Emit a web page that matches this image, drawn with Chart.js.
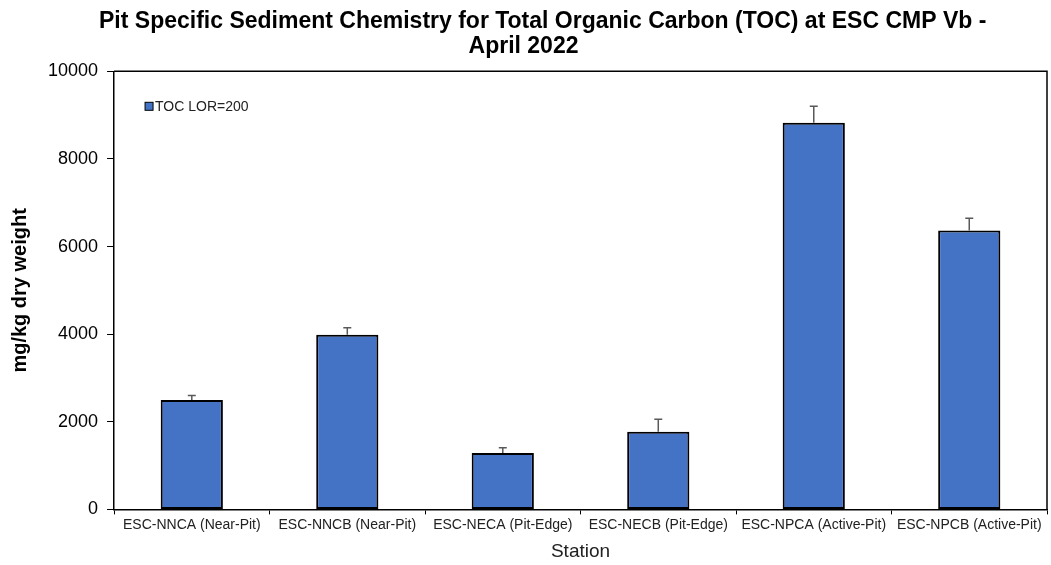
<!DOCTYPE html>
<html>
<head>
<meta charset="utf-8">
<script src="https://cdn.jsdelivr.net/npm/chart.js@4/dist/chart.umd.min.js"></script>
<style>
  html, body { margin: 0; padding: 0; background: #fff; }
  #wrap { width: 1051px; height: 565px; }
</style>
</head>
<body>
<div id="wrap"><canvas id="toc-chart" width="1051" height="565"></canvas></div>
<script>
const stations = [
  "ESC-NNCA (Near-Pit)",
  "ESC-NNCB (Near-Pit)",
  "ESC-NECA (Pit-Edge)",
  "ESC-NECB (Pit-Edge)",
  "ESC-NPCA (Active-Pit)",
  "ESC-NPCB (Active-Pit)"
];
const tocValues = [2500, 3985, 1290, 1775, 8825, 6365];
const tocErrors = [100, 160, 120, 280, 380, 280];
const seriesLabel = "TOC LOR=200";

const fontFamily = "'Liberation Sans', Arial, sans-serif";

// upper error bars + box frame + legend inside the plot
const extras = {
  id: "extras",
  afterDatasetsDraw(chart) {
    const ctx = chart.ctx;
    const y = chart.scales.y;
    const meta = chart.getDatasetMeta(0);

    ctx.save();
    ctx.strokeStyle = "#595959";
    ctx.lineWidth = 1.5;
    meta.data.forEach(function (bar, i) {
      const top = y.getPixelForValue(tocValues[i] + tocErrors[i]);
      ctx.beginPath();
      ctx.moveTo(bar.x, bar.y);
      ctx.lineTo(bar.x, top);
      ctx.moveTo(bar.x - 4, top);
      ctx.lineTo(bar.x + 4, top);
      ctx.stroke();
    });
    ctx.restore();
  },
  afterDraw(chart) {
    const ctx = chart.ctx;
    const area = chart.chartArea;

    ctx.save();
    ctx.strokeStyle = "#000";
    ctx.lineWidth = 1.5;
    ctx.beginPath();
    ctx.moveTo(area.left, area.top);
    ctx.lineTo(area.right, area.top);
    ctx.lineTo(area.right, area.bottom);
    ctx.stroke();

    const lx = area.left + 31;
    const ly = area.top + 35;
    ctx.fillStyle = "#4472C4";
    ctx.fillRect(lx, ly - 4, 8, 8);
    ctx.lineWidth = 1;
    ctx.strokeRect(lx, ly - 4, 8, 8);
    ctx.fillStyle = "#222";
    ctx.font = "14px " + fontFamily;
    ctx.textBaseline = "middle";
    ctx.fillText(seriesLabel, lx + 10, ly + 1);
    ctx.restore();
  }
};

const ctx = document.getElementById("toc-chart").getContext("2d");

new Chart(ctx, {
  type: "bar",
  data: {
    labels: stations,
    datasets: [
      {
        label: seriesLabel,
        data: tocValues,
        backgroundColor: "#4472C4",
        borderColor: "#000",
        borderWidth: 2,
        borderSkipped: false,
        barPercentage: 0.4,
        categoryPercentage: 1
      }
    ]
  },
  options: {
    responsive: false,
    animation: false,
    layout: {
      padding: { left: 0, right: 4, top: 0, bottom: 2 }
    },
    plugins: {
      legend: { display: false },
      tooltip: { enabled: false },
      title: {
        display: true,
        // leading spaces nudge the first line right like the original
        text: [
          "      Pit Specific Sediment Chemistry for Total Organic Carbon (TOC) at ESC CMP Vb -",
          "April 2022"
        ],
        color: "#000",
        font: { family: fontFamily, size: 23, weight: "bold", lineHeight: 1.05 },
        padding: { top: 10, bottom: 13 }
      }
    },
    scales: {
      x: {
        grid: {
          display: true,
          drawOnChartArea: false,
          drawTicks: true,
          tickLength: 5,
          color: "#000",
          offset: true
        },
        border: { color: "#000", width: 1.5 },
        ticks: {
          color: "#222",
          maxRotation: 0,
          minRotation: 0,
          autoSkip: false,
          padding: 2,
          font: { family: fontFamily, size: 14 }
        },
        title: {
          display: true,
          text: "Station",
          color: "#222",
          padding: { top: 5, bottom: 0 },
          font: { family: fontFamily, size: 19 }
        }
      },
      y: {
        min: 0,
        max: 10000,
        grid: {
          display: true,
          drawOnChartArea: false,
          drawTicks: true,
          tickLength: 7,
          color: "#000"
        },
        border: { color: "#000", width: 1.5 },
        ticks: {
          stepSize: 2000,
          color: "#000",
          padding: 9,
          font: { family: fontFamily, size: 18 },
          callback: function (value) {
            return String(value);
          }
        },
        title: {
          display: true,
          text: "mg/kg dry weight",
          color: "#000",
          padding: { top: 8, bottom: 7 },
          font: { family: fontFamily, size: 20, weight: "bold" }
        }
      }
    }
  },
  plugins: [extras]
});
</script>
</body>
</html>
